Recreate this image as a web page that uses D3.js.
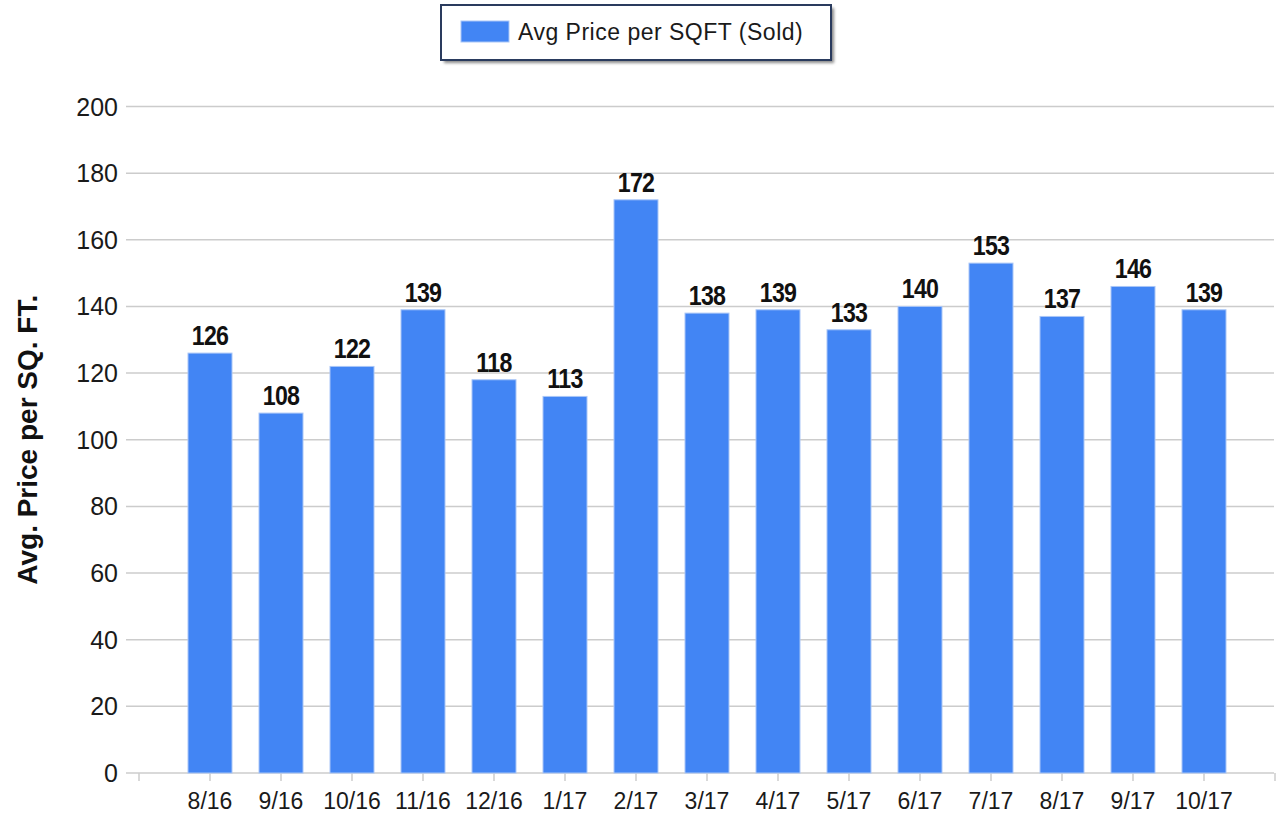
<!DOCTYPE html>
<html>
<head>
<meta charset="utf-8">
<script src="https://cdn.jsdelivr.net/npm/d3@7"></script>
<style>
  html, body { margin: 0; padding: 0; background: #fff; }
  svg { display: block; }
</style>
</head>
<body>
<svg id="chart" width="1276" height="816"></svg>
<script>
// Monthly average sold price per square foot
const months = ["8/16", "9/16", "10/16", "11/16", "12/16", "1/17", "2/17", "3/17",
                "4/17", "5/17", "6/17", "7/17", "8/17", "9/17", "10/17"];
const avgPrice = [126, 108, 122, 139, 118, 113, 172, 138, 139, 133, 140, 153, 137, 146, 139];
const yTicks = [0, 20, 40, 60, 80, 100, 120, 140, 160, 180, 200];
const seriesName = "Avg Price per SQFT (Sold)";
const yTitle = "Avg. Price per SQ. FT.";

const svg = d3.select("#chart");
const barColor = "#4285f4";
const gridColor = "#cccccc";

// Category positions sit at 1..n on a 0..n+1 axis
const x = d3.scaleLinear().domain([0, months.length + 1]).range([139, 1275]);
const y = d3.scaleLinear().domain([0, 200]).range([773, 106.5]);
const barW = 44;

// Horizontal gridlines with short outside ticks on the left
const grid = svg.append("g");
grid.selectAll("line").data(yTicks).join("line")
  .attr("x1", 126).attr("x2", 1274)
  .attr("y1", d => y(d)).attr("y2", d => y(d))
  .attr("stroke", gridColor).attr("stroke-width", 1.5);

// Y tick labels
svg.append("g").selectAll("text").data(yTicks).join("text")
  .attr("x", 118).attr("y", d => y(d) + 9)
  .attr("text-anchor", "end")
  .attr("font-family", "Liberation Sans, Arial, sans-serif")
  .attr("font-size", 25).attr("fill", "#1a1a1a")
  .text(d => d);

// X axis tick marks: both axis ends plus each category
const xTickPos = d3.range(0, months.length + 2);
svg.append("g").selectAll("line").data(xTickPos).join("line")
  .attr("x1", d => x(d)).attr("x2", d => x(d))
  .attr("y1", 773).attr("y2", 781)
  .attr("stroke", gridColor).attr("stroke-width", 1.5);

// Bars
svg.append("g").selectAll("rect").data(avgPrice).join("rect")
  .attr("x", (d, i) => x(i + 1) - barW / 2)
  .attr("y", d => y(d))
  .attr("width", barW)
  .attr("height", d => y(0) - y(d))
  .attr("fill", barColor)
  .attr("stroke", "#a9c6f7").attr("stroke-width", 1);

// Value labels above bars (tall, condensed digits)
svg.append("g").selectAll("text").data(avgPrice).join("text")
  .attr("transform", (d, i) => `translate(${x(i + 1)}, ${y(d) - 8}) scale(0.86, 1)`)
  .attr("text-anchor", "middle")
  .attr("font-family", "Liberation Sans, Arial, sans-serif")
  .attr("font-weight", "bold")
  .attr("font-size", 27).attr("letter-spacing", -0.8).attr("fill", "#111")
  .text(d => d);

// X category labels
svg.append("g").selectAll("text").data(months).join("text")
  .attr("x", (d, i) => x(i + 1))
  .attr("y", 809)
  .attr("text-anchor", "middle")
  .attr("font-family", "Liberation Sans, Arial, sans-serif")
  .attr("font-size", 23).attr("fill", "#1a1a1a")
  .text(d => d);

// Y axis title
svg.append("text")
  .attr("transform", `translate(37, ${(y(0) + y(200)) / 2}) rotate(-90)`)
  .attr("text-anchor", "middle")
  .attr("font-family", "Liberation Sans, Arial, sans-serif")
  .attr("font-weight", "bold")
  .attr("font-size", 28).attr("fill", "#111")
  .text(yTitle);

// Legend box with drop shadow
const defs = svg.append("defs");
defs.append("filter").attr("id", "legendShadow")
  .attr("x", "-10%").attr("y", "-30%").attr("width", "120%").attr("height", "160%")
  .append("feGaussianBlur").attr("stdDeviation", 1.5);

const legend = svg.append("g");
legend.append("rect")
  .attr("x", 444).attr("y", 8).attr("width", 390).attr("height", 55)
  .attr("fill", "#8a8a8a").attr("filter", "url(#legendShadow)");
legend.append("rect")
  .attr("x", 441).attr("y", 5).attr("width", 390).attr("height", 55)
  .attr("fill", "#fff").attr("stroke", "#2a3b5e").attr("stroke-width", 2);
legend.append("rect")
  .attr("x", 461).attr("y", 21).attr("width", 48).attr("height", 21)
  .attr("fill", barColor).attr("stroke", "#a9c6f7").attr("stroke-width", 1);
legend.append("text")
  .attr("x", 518).attr("y", 40)
  .attr("font-family", "Liberation Sans, Arial, sans-serif")
  .attr("font-size", 23).attr("letter-spacing", 0.5).attr("fill", "#1a1a1a")
  .text(seriesName);
</script>
</body>
</html>
